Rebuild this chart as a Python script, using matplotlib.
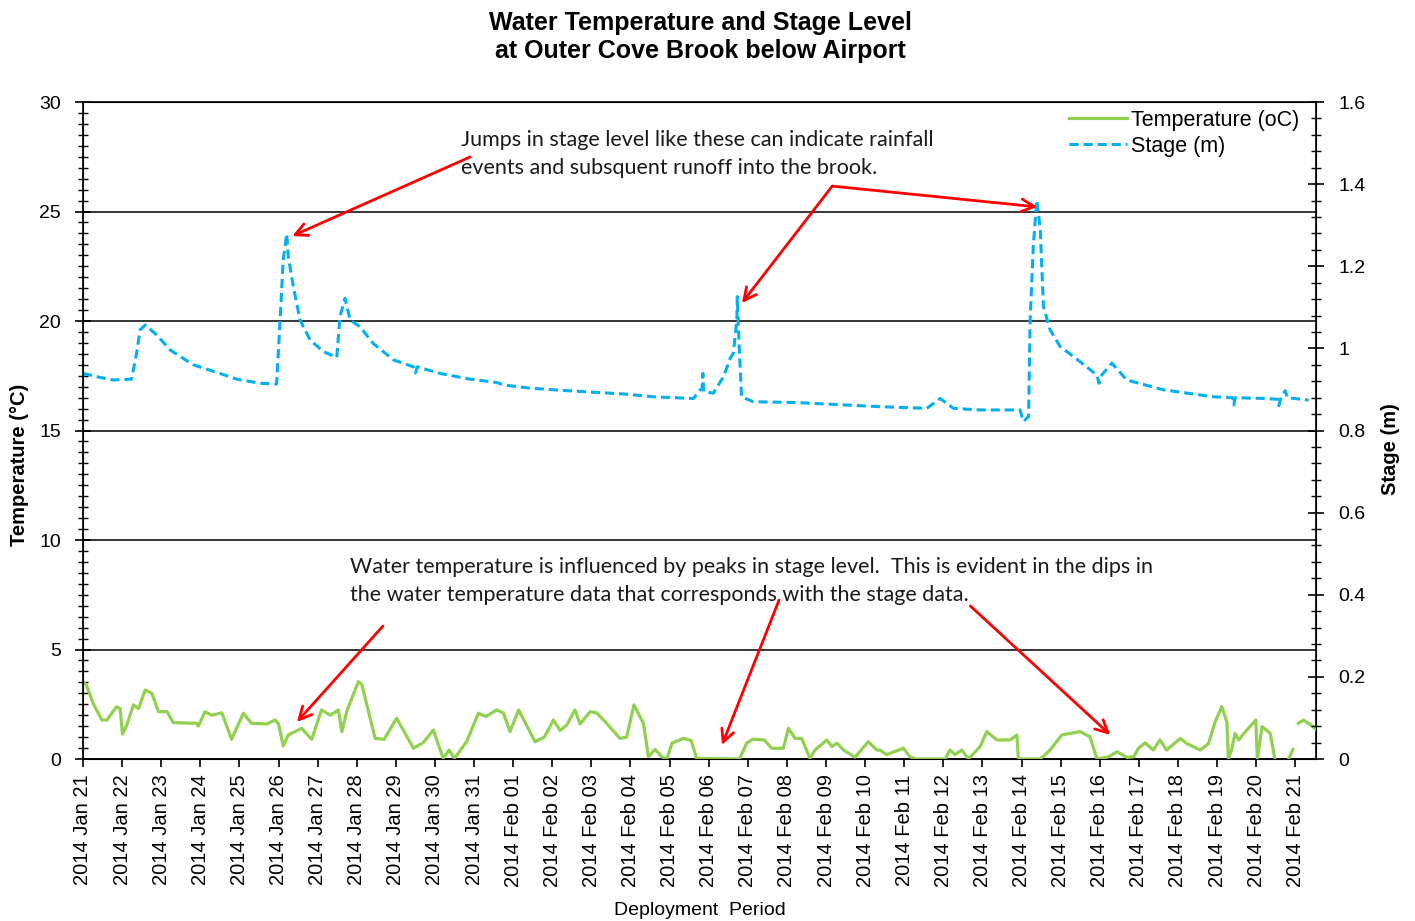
import numpy as np
import pandas as pd
import matplotlib
matplotlib.use("Agg")
import matplotlib.pyplot as plt
from matplotlib.ticker import MultipleLocator

# days since 2014-01-21 00:00
stage_day = [0.00, 0.40, 0.77, 1.24, 1.37, 1.46, 1.59, 1.88, 2.23, 2.82, 3.50, 3.93,
             4.53, 4.95, 5.04, 5.12, 5.21, 5.25, 5.38, 5.55, 5.81, 6.15, 6.49, 6.57,
             6.70, 6.83, 7.08, 7.42, 7.94, 8.45, 8.50, 8.55, 9.13, 9.90, 10.58, 10.75,
             11.43, 12.71, 13.82, 14.59, 15.61, 15.78, 15.83, 15.85, 15.87, 16.12,
             16.38, 16.55, 16.63, 16.72, 16.73, 16.78, 16.84, 17.14, 18.25, 19.53,
             20.38, 21.58, 21.92, 22.26, 22.94, 23.96, 24.05, 24.18, 24.22, 24.30,
             24.39, 24.48, 24.56, 24.73, 24.99, 25.33, 25.93, 25.98, 26.05, 26.31,
             26.69, 27.63, 28.91, 29.40, 29.43, 29.46, 30.19, 30.55, 30.58, 30.62,
             30.74, 30.80, 31.34]
stage_m = [0.939, 0.930, 0.923, 0.925, 0.988, 1.045, 1.057, 1.033, 0.996, 0.960, 0.939, 0.925,
           0.915, 0.913, 1.069, 1.215, 1.279, 1.223, 1.150, 1.069, 1.020, 0.992, 0.978, 1.077,
           1.122, 1.069, 1.053, 1.012, 0.972, 0.955, 0.940, 0.955, 0.939, 0.925, 0.917, 0.911,
           0.903, 0.895, 0.889, 0.882, 0.878, 0.899, 0.900, 0.939, 0.895, 0.891,
           0.931, 0.976, 0.988, 1.069, 1.126, 1.004, 0.882, 0.870, 0.868, 0.862,
           0.858, 0.854, 0.878, 0.854, 0.850, 0.850, 0.822, 0.834, 1.069, 1.248,
           1.361, 1.288, 1.102, 1.045, 1.004, 0.980, 0.935, 0.915, 0.935, 0.964,
           0.923, 0.899, 0.882, 0.880, 0.862, 0.880, 0.878, 0.876, 0.860, 0.876,
           0.897, 0.880, 0.874]

temp_day = [0.00, 0.08, 0.26, 0.48, 0.61, 0.86, 0.95, 1.01, 1.12, 1.29, 1.42, 1.59, 1.76,
            1.93, 2.15, 2.31, 2.91, 2.95, 3.12, 3.29, 3.55, 3.80, 4.10, 4.31, 4.70, 4.91,
            5.00, 5.12, 5.25, 5.59, 5.85, 6.10, 6.32, 6.53, 6.62, 6.75, 7.04, 7.13, 7.47,
            7.70, 8.02, 8.45, 8.70, 8.96, 9.21, 9.36, 9.50, 9.81, 10.11, 10.30, 10.58,
            10.75, 10.92, 11.14, 11.56, 11.80, 12.03, 12.20, 12.37, 12.58, 12.71, 12.97,
            13.14, 13.39, 13.73, 13.90, 14.09, 14.33, 14.46, 14.63, 14.80, 14.93, 15.06,
            15.35, 15.55, 15.69, 16.79, 16.97, 17.12, 17.42, 17.61, 17.91, 18.04, 18.21,
            18.38, 18.59, 18.72, 19.02, 19.15, 19.28, 19.45, 19.74, 20.08, 20.30, 20.38,
            20.55, 20.98, 21.15, 21.30, 22.05, 22.17, 22.30, 22.47, 22.64, 22.94, 23.11,
            23.37, 23.71, 23.88, 23.92, 24.48, 24.73, 25.03, 25.50, 25.75, 25.93, 26.23,
            26.44, 26.70, 26.87, 26.99, 27.16, 27.37, 27.54, 27.71, 28.06, 28.23, 28.57,
            28.78, 28.95, 29.12, 29.25, 29.29, 29.37, 29.46, 29.55, 29.76, 29.99, 30.03,
            30.15, 30.36, 30.48, 30.60, 30.83, 30.94, 31.00, 31.08, 31.21, 31.40, 31.55]
temp_c = [3.53, 3.40, 2.54, 1.78, 1.78, 2.39, 2.30, 1.14, 1.55, 2.47, 2.30, 3.15, 3.00,
          2.16, 2.16, 1.66, 1.63, 1.50, 2.16, 2.00, 2.11, 0.90, 2.09, 1.63, 1.60, 1.78,
          1.60, 0.59, 1.10, 1.40, 0.90, 2.24, 2.00, 2.24, 1.25, 2.20, 3.53, 3.40, 0.94,
          0.90, 1.86, 0.49, 0.75, 1.32, 0.03, 0.41, 0.03, 0.79, 2.09, 1.94, 2.24,
          2.10, 1.25, 2.24, 0.79, 1.00, 1.78, 1.30, 1.55, 2.24, 1.60, 2.16,
          2.10, 1.63, 0.94, 1.00, 2.47, 1.63, 0.11, 0.44, 0.10, 0.00, 0.72,
          0.94, 0.85, 0.03, 0.00, 0.72, 0.90, 0.87, 0.49, 0.49, 1.40, 0.94,
          0.94, 0.03, 0.41, 0.87, 0.57, 0.72, 0.41, 0.08, 0.79, 0.41, 0.41,
          0.20, 0.49, 0.10, 0.00, 0.00, 0.41, 0.20, 0.41, 0.00, 0.56, 1.25,
          0.87, 0.87, 1.10, 0.00, 0.00, 0.41, 1.10, 1.25, 1.02, 0.00, 0.10,
          0.33, 0.07, 0.10, 0.49, 0.74, 0.41, 0.87, 0.41, 0.94, 0.70, 0.41,
          0.70, 1.70, 2.39, 1.70, 0.00, 0.41, 1.17, 0.87, 1.32, 1.78, 0.00,
          1.48, 1.17, 0.00, np.nan, 0.00, 0.44, np.nan, 1.63, 1.78, 1.55, 1.32]

tick_labels = [d.strftime("%Y %b %d") for d in pd.date_range("2014-01-21", "2014-02-21", freq="D")]

green = "#92D050"
blue = "#00B0F0"

fig = plt.figure(figsize=(14.15, 9.21), dpi=100)
ax = fig.add_axes([83 / 1415, 1 - 759 / 921, (1316 - 83) / 1415, (759 - 102) / 921])
ax2 = ax.twinx()

lt, = ax.plot(temp_day, temp_c, color=green, lw=2.3, label="Temperature (oC)", zorder=3)
ls, = ax2.plot(stage_day, stage_m, color=blue, lw=2.2, dashes=(3, 1.6), label="Stage (m)")

ax.set_xlim(0, 31.53)
ax.set_ylim(0, 30)
ax2.set_ylim(0, 1.6)

ax.set_xticks(range(len(tick_labels)))
ax.set_xticklabels(tick_labels, rotation=90, fontsize=14.5, family="Liberation Sans")
ax.tick_params(axis="x", direction="out", length=6, width=1.2, pad=5)

ax.yaxis.set_major_locator(MultipleLocator(5))
ax.yaxis.set_minor_locator(MultipleLocator(0.5))
ax.tick_params(axis="y", which="major", direction="inout", length=12, width=1.2, labelsize=14, pad=10)
ax.tick_params(axis="y", which="minor", direction="inout", length=7, width=1)
ax2.yaxis.set_minor_locator(MultipleLocator(0.04))
ax2.set_yticks([0, 0.2, 0.4, 0.6, 0.8, 1.0, 1.2, 1.4, 1.6])
ax2.set_yticklabels(["0", "0.2", "0.4", "0.6", "0.8", "1", "1.2", "1.4", "1.6"])
ax2.tick_params(axis="y", which="major", direction="inout", length=12, width=1.2, labelsize=14, pad=10)
ax2.tick_params(axis="y", which="minor", direction="inout", length=7, width=1)
for a in (ax, ax2):
    for lab in a.get_yticklabels():
        lab.set_family("Liberation Sans")

ax.yaxis.grid(True, color="black", lw=1.1)
ax.set_axisbelow(True)
for s in ax.spines.values():
    s.set_linewidth(1.2)

fig.text(700 / 1415, 1 - 11 / 921, "Water Temperature and Stage Level\nat Outer Cove Brook below Airport",
         ha="center", va="top", fontsize=18, fontweight="bold", family="Liberation Sans", linespacing=1.2)
fig.text(20 / 1415, 1 - 465 / 921, "Temperature (°C)", rotation=90, ha="center", va="center",
         fontsize=14.5, fontweight="bold", family="Liberation Sans")
fig.text(1390 / 1415, 1 - 449 / 921, "Stage (m)", rotation=90, ha="center", va="center",
         fontsize=14.5, fontweight="bold", family="Liberation Sans")
fig.text(700 / 1415, 1 - 910 / 921, "Deployment  Period", ha="center", va="center",
         fontsize=14, family="Liberation Sans")

leg = ax2.legend(handles=[lt, ls], loc="upper right", bbox_to_anchor=(1 - 8 / 1233, 1 + 1 / 657),
                 frameon=False, handlelength=2.7, handletextpad=0.2, labelspacing=0.25,
                 borderpad=0.4, borderaxespad=0, prop={"family": "Liberation Sans", "size": 15.5})

note_font = dict(fontsize=15.5, family="Lato", color="#1a1a1a", linespacing=1.5, va="top", ha="left")
ax.text(9.67, 28.72, "Jumps in stage level like these can indicate rainfall\nevents and subsquent runoff into the brook.",
        **note_font, zorder=6)
ax.text(6.83, 9.22, "Water temperature is influenced by peaks in stage level.  This is evident in the dips in\n"
        "the water temperature data that corresponds with the stage data.", **note_font, zorder=6)

arrow = dict(arrowstyle="->,head_length=0.9,head_width=0.45", color="red", lw=2, shrinkA=0, shrinkB=0)
arrows = [((9.90, 27.49), (5.35, 23.88)),
          ((19.16, 26.16), (16.85, 20.82)),
          ((19.16, 26.16), (24.40, 25.21)),
          ((7.67, 6.07), (5.47, 1.69)),
          ((17.80, 7.26), (16.34, 0.64)),
          ((22.69, 6.99), (26.27, 1.10))]
for tail, head in arrows:
    ax2.annotate("", xy=head, xytext=tail, xycoords=ax.transData, textcoords=ax.transData,
                 arrowprops=arrow, zorder=7)

fig.savefig("out.png", dpi=100)
